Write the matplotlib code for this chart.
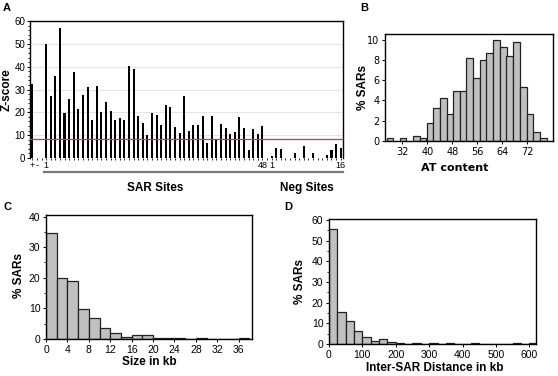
import matplotlib
matplotlib.use('Agg')
import matplotlib.pyplot as plt  # pip install -U matplotlib
import matplotlib.transforms as mtransforms
from matplotlib.ticker import MultipleLocator
import numpy as np  # pip install numpy

W, H = 558, 376  # figure size in pixels

# Panel A: Z-scores
control_labels = ['+', '-']
control_z = [32.5, 0.0]
sar_z = [50, 27, 36, 57, 19.5, 26, 37.5, 21.5, 27.5, 31, 16.5, 31.5,
         20, 24.5, 20.5, 16.5, 17.5, 16.5, 40.5, 39, 18.5, 15.5, 10, 19.5,
         19, 14.5, 23, 22.5, 13.5, 11, 27, 12, 14.5, 14.5, 18.5, 6.5,
         18.5, 8.5, 15, 13, 10.5, 11.5, 18, 13, 3.5, 12.5, 10.5, 14]
neg_z = [1, 4.2, 3.8, 0, 0, 2, 0, 5.3, 0, 2, 0, 0, 1.2, 3.3, 6.1, 4.5]
z_threshold = 8.3

# Panel B: AT content histogram
at_centers = [28.1, 32.3, 36.6, 38.7, 40.9, 43.0, 45.1, 47.3, 49.4, 51.5, 53.6,
              55.8, 57.9, 60.0, 62.2, 64.3, 66.4, 68.5, 70.7, 72.8, 74.9, 77.1]
at_pct = [0.3, 0.3, 0.45, 0.25, 1.75, 3.3, 4.2, 2.65, 4.9, 4.9, 8.2,
          6.2, 7.95, 8.65, 10.0, 9.3, 8.4, 9.75, 5.3, 2.65, 0.9, 0.25]
at_bin_width = 2.13

# Panel C: SAR size histogram (kb)
size_left = [0, 2, 4, 6, 8, 10, 12, 14, 16, 18, 20, 22, 24, 26, 28, 30, 32, 34, 36]
size_pct = [34.5, 20, 18.8, 9.7, 6.8, 3.5, 2.0, 0.7, 1.3, 1.2,
            0.3, 0.2, 0.2, 0.1, 0.2, 0.1, 0.1, 0.1, 0.2]

# Panel D: inter-SAR distance histogram (kb)
dist_left = [0, 25, 50, 75, 100, 125, 150, 175, 200, 225, 250, 275, 300,
             325, 350, 375, 400, 425, 450, 475, 500, 525, 550, 575, 600]
dist_pct = [55.6, 15.6, 11.1, 6.1, 3.5, 1.5, 2.3, 0.8, 0.4, 0.2, 0.5, 0.2, 0.4,
            0.1, 0.3, 0.1, 0.1, 0.3, 0.1, 0.1, 0.1, 0.1, 0.3, 0.1, 0.3]

SANS = 'Liberation Sans'
HIST_FACE = '#c0c0c0'
HIST_EDGE = '#222222'


def px_axes(fig, left, top, right, bottom):
    return fig.add_axes([left / W, 1 - bottom / H, (right - left) / W, (bottom - top) / H])


def ftext(fig, x, y, s, **kw):
    fig.text(x / W, 1 - y / H, s, ha='center', va='center', **kw)


def style_hist(ax):
    for sp in ax.spines.values():
        sp.set_linewidth(1.0)
        sp.set_color('black')
    ax.tick_params(direction='out', length=2.5, width=0.7, labelsize=7.5, pad=1.5)
    ax.tick_params(which='minor', length=1.5, width=0.6)
    for lab in ax.get_xticklabels() + ax.get_yticklabels():
        lab.set_family(SANS)


def run():
    fig = plt.figure(figsize=(W / 100, H / 100), dpi=100)

    # ---- A ----
    ax = px_axes(fig, 30, 21, 343, 158)
    slots_ctrl = [0, 1]
    slots_sar = list(range(3, 3 + len(sar_z)))
    slots_neg = list(range(52, 52 + len(neg_z)))
    ax.bar(slots_ctrl + slots_sar + slots_neg, control_z + sar_z + neg_z,
           width=0.45, color='black', zorder=3)
    ax.axhline(z_threshold, color='#c8393a', lw=0.9, zorder=4)
    ax.set_xlim(-0.5, 67.5)
    ax.set_ylim(0, 60)
    ax.set_yticks(range(0, 61, 10))
    ax.yaxis.set_minor_locator(MultipleLocator(2))
    ax.grid(axis='y', color='#e4e4e4', lw=0.8, zorder=0)
    ax.spines['bottom'].set_visible(False)
    for sp in ['top', 'left', 'right']:
        ax.spines[sp].set_linewidth(1.0)
    ax.set_xticks(range(0, 68), minor=True)
    ax.set_xticks([0, 1, 3, 50, 52, 67])
    ax.set_xticklabels(control_labels + ['1', str(len(sar_z)), '1', str(len(neg_z))])
    ax.tick_params(axis='x', which='both', length=1.5, width=0.6, labelsize=6.5, pad=1)
    ax.tick_params(axis='y', which='major', length=2.5, width=0.7, labelsize=7, pad=1)
    ax.tick_params(axis='y', which='minor', length=1.5, width=0.6)
    for lab in ax.get_xticklabels() + ax.get_yticklabels():
        lab.set_family(SANS)
    trans = mtransforms.blended_transform_factory(ax.transData, ax.transAxes)
    ax.plot([2.6, 51.1], [-0.102, -0.102], color='#777777', lw=1.6,
            transform=trans, clip_on=False)
    ax.plot([51.7, 67.5], [-0.102, -0.102], color='#777777', lw=1.6,
            transform=trans, clip_on=False)
    ftext(fig, 155, 188, 'SAR Sites', family=SANS, weight='bold', fontsize=8.5)
    ftext(fig, 307, 188, 'Neg Sites', family=SANS, weight='bold', fontsize=8.5)
    ftext(fig, 7, 90, 'Z-score', family=SANS, weight='bold', fontsize=8.5, rotation=90)

    # ---- B ----
    ax = px_axes(fig, 385, 34, 553, 141)
    ax.bar(at_centers, at_pct, width=at_bin_width, color=HIST_FACE,
           edgecolor=HIST_EDGE, linewidth=0.9)
    ax.set_xlim(26.5, 80.2)
    ax.set_ylim(0, 10.55)
    ax.set_xticks(range(32, 73, 8))
    ax.set_yticks(range(0, 11, 2))
    style_hist(ax)
    for lab in ax.get_xticklabels() + ax.get_yticklabels():
        lab.set_family('DejaVu Sans')
        lab.set_fontsize(7)
    ftext(fig, 455, 168, 'AT content', family='DejaVu Sans', weight='bold', fontsize=8)
    ftext(fig, 363, 88, '% SARs', family=SANS, weight='bold', fontsize=8.5, rotation=90)

    # ---- C ----
    ax = px_axes(fig, 46, 215, 252, 339)
    ax.bar(size_left, size_pct, width=2, align='edge', color=HIST_FACE,
           edgecolor=HIST_EDGE, linewidth=0.9)
    ax.set_xlim(0, 38.5)
    ax.set_ylim(0, 40.5)
    ax.set_xticks(range(0, 37, 4))
    ax.set_yticks(range(0, 41, 10))
    ax.yaxis.set_minor_locator(MultipleLocator(5))
    style_hist(ax)
    ftext(fig, 19, 275, '% SARs', family=SANS, weight='bold', fontsize=8.5, rotation=90)
    ftext(fig, 149, 362, 'Size in kb', family=SANS, weight='bold', fontsize=8.5)

    # ---- D ----
    ax = px_axes(fig, 329, 219, 536, 344)
    ax.bar(dist_left, dist_pct, width=25, align='edge', color=HIST_FACE,
           edgecolor=HIST_EDGE, linewidth=0.9)
    ax.set_xlim(0, 620)
    ax.set_ylim(0, 60.5)
    ax.set_xticks(range(0, 601, 100))
    ax.set_yticks(range(0, 61, 10))
    ax.yaxis.set_minor_locator(MultipleLocator(5))
    style_hist(ax)
    ftext(fig, 435, 368, 'Inter-SAR Distance in kb', family=SANS, weight='bold', fontsize=8.5)
    ftext(fig, 300, 281, '% SARs', family=SANS, weight='bold', fontsize=8.5, rotation=90)

    # panel letters
    for letter, x, y in [('A', 7, 8), ('B', 364, 8), ('C', 8, 207), ('D', 288, 207)]:
        ftext(fig, x, y, letter, family=SANS, weight='bold', fontsize=8)

    fig.savefig('out.png', dpi=100)


if __name__ == "__main__":
    run()
